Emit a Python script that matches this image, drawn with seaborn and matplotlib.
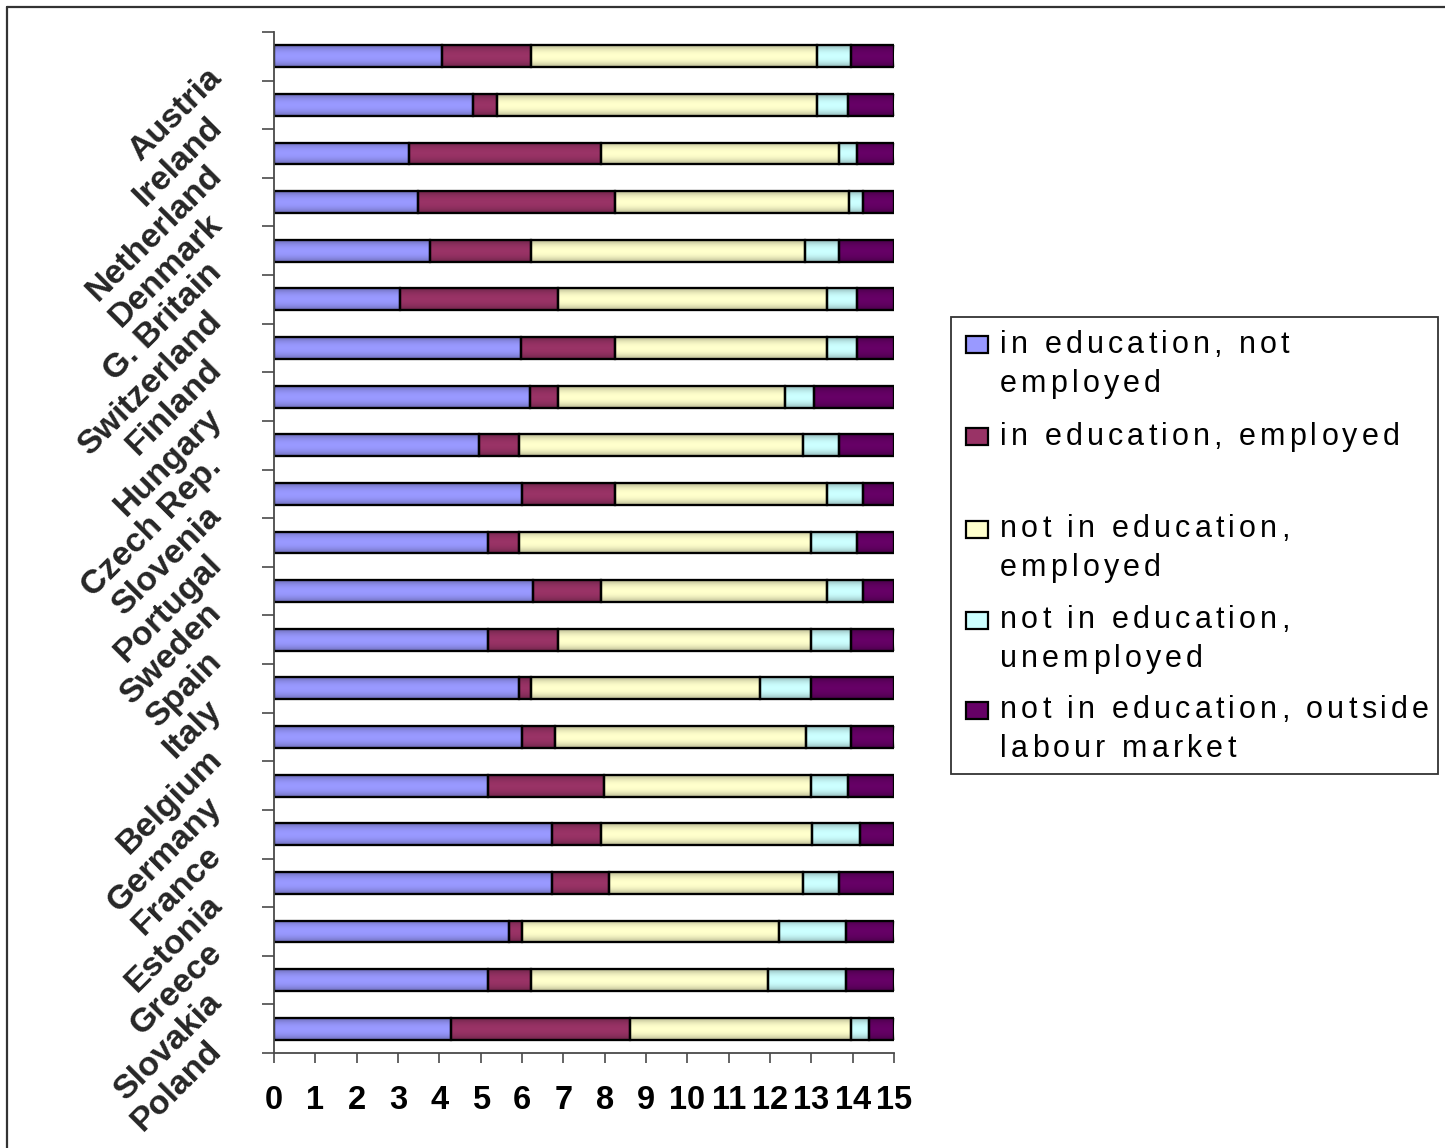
import numpy as np
import pandas as pd
import matplotlib
matplotlib.use("Agg")
import matplotlib.pyplot as plt
import matplotlib.transforms as mtransforms
from matplotlib.patches import Rectangle
from matplotlib.lines import Line2D
from matplotlib.font_manager import FontProperties, findfont, get_font
import seaborn as sns

# ---- data: mean years spent in each status, ages 15-29 ----
countries = ["Austria", "Ireland", "Netherland", "Denmark", "G. Britain",
             "Switzerland", "Finland", "Hungary", "Czech Rep.", "Slovenia",
             "Portugal", "Sweden", "Spain", "Italy", "Belgium", "Germany",
             "France", "Estonia", "Greece", "Slovakia", "Poland"]

in_edu_not_employed = [4.06, 4.82, 3.26, 3.49, 3.78, 3.04, 5.97, 6.20, 4.95, 5.99,
                       5.18, 6.27, 5.18, 5.92, 5.99, 5.18, 6.72, 6.72, 5.69, 5.18, 4.29]
in_edu_employed = [2.16, 0.58, 4.64, 4.77, 2.44, 3.83, 2.29, 0.67, 0.97, 2.27,
                   0.74, 1.63, 1.69, 0.30, 0.80, 2.80, 1.18, 1.39, 0.30, 1.04, 4.32]
not_edu_employed = [6.92, 7.74, 5.77, 5.64, 6.62, 6.50, 5.11, 5.49, 6.87, 5.11,
                    7.08, 5.47, 6.13, 5.55, 6.07, 5.02, 5.12, 4.68, 6.22, 5.72, 5.35]
not_edu_unemployed = [0.81, 0.74, 0.43, 0.35, 0.83, 0.74, 0.74, 0.71, 0.88, 0.88,
                      1.11, 0.88, 0.95, 1.23, 1.09, 0.89, 1.16, 0.88, 1.62, 1.89, 0.43]
not_edu_outside = [1.05, 1.12, 0.90, 0.75, 1.33, 0.89, 0.89, 1.93, 1.33, 0.75,
                   0.89, 0.75, 1.05, 2.00, 1.05, 1.11, 0.82, 1.33, 1.17, 1.17, 0.61]

series_labels = [["in education, not", "employed"],
                 ["in education, employed"],
                 ["not in education,", "employed"],
                 ["not in education,", "unemployed"],
                 ["not in education, outside", "labour market"]]
series_colors = ["#9999FF", "#993366", "#FFFFCC", "#CCFFFF", "#660066"]
x_ticks = list(range(0, 16))

W, H, DPI = 1445, 1148, 100
AXIS_GREY = "#4a4a4a"

sns.set_style("ticks")
plt.rcParams["font.family"] = ["Liberation Sans", "DejaVu Sans"]

fig = plt.figure(figsize=(W / DPI, H / DPI), dpi=DPI)
fig.patch.set_facecolor("white")
ax = fig.add_axes([274 / W, 1 - 1053 / H, (894 - 274) / W, (1053 - 32) / H])

# ---- stacked horizontal bars, one seaborn layer per status ----
series = [in_edu_not_employed, in_edu_employed, not_edu_employed,
          not_edu_unemployed, not_edu_outside]
start = np.zeros(len(countries))
for vals, color in zip(series, series_colors):
    layer = pd.DataFrame({"country": countries, "years": vals})
    sns.barplot(data=layer, x="years", y="country", order=countries, orient="h",
                color=color, saturation=1, errorbar=None, width=0.45,
                edgecolor="black", linewidth=1.5, left=start.copy(), ax=ax)
    start += np.asarray(vals)

# bevelled look: darken the top and bottom of every bar, then redraw outlines
bars = list(ax.patches)
t = np.linspace(-1, 1, 64)[:, None]
shade = np.zeros((64, 1, 4))
shade[..., 3] = 0.30 * np.abs(t) ** 2.2
for p in bars:
    x0, y0 = p.get_xy()
    w, h = p.get_width(), p.get_height()
    im = ax.imshow(shade, extent=(x0, x0 + w, y0 + h, y0), aspect="auto",
                   interpolation="bilinear", zorder=1.5)
    im.set_clip_path(p)
    ax.add_patch(Rectangle((x0, y0), w, h, fill=False, edgecolor="black",
                           linewidth=1.6, zorder=2))

ax.set_xlim(0, 15)
ax.set_ylim(len(countries) - 0.5, -0.5)
ax.set_xlabel("")
ax.set_ylabel("")

for side in ("top", "right"):
    ax.spines[side].set_visible(False)
for side in ("left", "bottom"):
    ax.spines[side].set_color(AXIS_GREY)
    ax.spines[side].set_linewidth(1.3)

# x axis: whole years
ax.set_xticks(x_ticks)
ax.set_xticklabels([str(v) for v in x_ticks], fontweight="bold", fontsize=23.5)
ax.tick_params(axis="x", which="major", direction="out", length=7, width=1.2,
               color=AXIS_GREY, pad=16, labelcolor="black", bottom=True)

# y axis: country names between boundary ticks
ax.set_yticks(range(len(countries)))
ax.set_yticklabels(countries, rotation=45, ha="right", va="center",
                   rotation_mode="anchor", fontweight="bold", fontsize=24.5)
ax.set_yticks(np.arange(-0.5, len(countries), 1.0), minor=True)
ax.tick_params(axis="y", which="major", length=0, pad=41, left=True)
ax.tick_params(axis="y", which="minor", direction="out", length=8.6, width=1.2,
               color=AXIS_GREY, left=True)
ax.tick_params(axis="x", which="minor", bottom=False)
label_drop = mtransforms.ScaledTranslation(0, -17 / DPI, fig.dpi_scale_trans)
for lab in ax.get_yticklabels():
    lab.set_transform(lab.get_transform() + label_drop)

# ---- outer frame ----
fig.add_artist(Line2D([7 / W, 1.0], [1 - 7 / H, 1 - 7 / H], color="#333333",
                      linewidth=1.6, transform=fig.transFigure))
fig.add_artist(Line2D([7 / W, 7 / W], [1 - 7 / H, 0.0], color="#333333",
                      linewidth=1.6, transform=fig.transFigure))

# ---- legend box with spaced lettering ----
def px(x, y):
    return x / W, 1 - y / H

fig.add_artist(Rectangle(px(951, 774), (1438 - 951) / W, (774 - 317) / H,
                         transform=fig.transFigure, fill=False,
                         edgecolor="#333333", linewidth=1.3))

leg_font = FontProperties(family="Liberation Sans", size=22)
ft = get_font(findfont(leg_font))
ft.set_size(22, DPI)
tracking = 4.1

def spaced_text(x, y, s):
    for ch in s:
        if ch != " ":
            fig.text(*px(x, y), ch, fontproperties=leg_font, ha="left",
                     va="baseline", color="black")
        x += ft.load_char(ord(ch)).linearHoriAdvance / 65536 + tracking

entry_top = [353, 445, 537, 628, 718]
line_gap = 39
for lines, color, base in zip(series_labels, series_colors, entry_top):
    fig.add_artist(Rectangle(px(966, base - 8 + 8.5), 22 / W, 17 / H,
                             transform=fig.transFigure, facecolor=color,
                             edgecolor="black", linewidth=1.6))
    for k, line in enumerate(lines):
        spaced_text(1000, base + k * line_gap, line)

fig.savefig("out.png", dpi=DPI, facecolor="white")
